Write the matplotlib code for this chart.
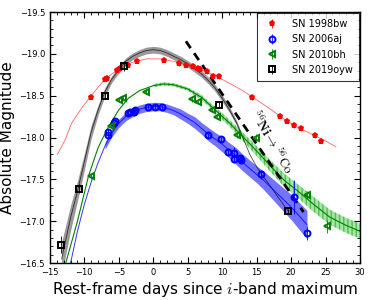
#!/usr/bin/env python3

import numpy as np
from matplotlib import pyplot as plt

bw_day = [-9.05, -7.0, -6.7, -5.2, -4.84, -3.7, -2.3, 1.6, 3.77, 4.74, 5.7, 6.5, 6.8,
          7.83, 8.7, 9.57, 14.3, 18.4, 19.4, 20.4, 21.4, 23.5, 24.4]
bw_mag = [-18.49, -18.70, -18.71, -18.81, -18.83, -18.87, -18.92, -18.93, -18.89, -18.87,
          -18.85, -18.83, -18.82, -18.79, -18.74, -18.73, -18.48, -18.26, -18.20, -18.15,
          -18.11, -18.03, -17.96]
bw_err = [0.03] * len(bw_day)

aj_day = [-6.5, -6.5, -5.67, -5.5, -3.6, -3.4, -2.8, -2.7, -0.73, 0.24, 1.2, 7.9, 9.8,
          10.8, 11.75, 11.75, 12.6, 12.7, 15.6, 20.4, 22.3]
aj_mag = [-18.03, -18.07, -18.17, -18.20, -18.29, -18.31, -18.31, -18.33, -18.37, -18.37,
          -18.36, -18.03, -17.98, -17.83, -17.81, -17.74, -17.75, -17.73, -17.56, -17.29,
          -16.86]
aj_err = [0.03, 0.03, 0.03, 0.03, 0.03, 0.03, 0.05, 0.03, 0.03, 0.03, 0.03, 0.03, 0.03,
          0.04, 0.08, 0.04, 0.04, 0.04, 0.05, 0.2, 0.08]

bh_day = [-9.05, -6.15, -5.0, -4.4, -1.1, 5.56, 6.5, 8.5, 9.3, 12.2, 14.9, 22.3, 25.15]
bh_mag = [-17.54, -18.14, -18.45, -18.47, -18.55, -18.46, -18.43, -18.33, -18.25, -18.03,
          -18.0, -17.31, -16.94]
bh_err = [0.03, 0.03, 0.03, 0.03, 0.03, 0.03, 0.03, 0.03, 0.03, 0.03, 0.04, 0.05, 0.08]

oyw_day = [-13.4, -10.75, -7.0, -4.3, 9.57, 19.6]
oyw_mag = [-16.72, -17.39, -18.50, -18.85, -18.39, -17.12]
oyw_err = [0.1, 0.05, 0.03, 0.06, 0.03, 0.03]

# --- model curves ---
bw_fit_day = [-13.9, -12.8, -11.85, -10.5, -9.1, -7, -5, -3, -1, 1, 3, 5, 7, 9, 11, 13,
              15, 17, 19, 21, 23, 25, 26.5]
bw_fit_mag = [-17.8, -17.97, -18.17, -18.34, -18.49, -18.70, -18.82, -18.90, -18.94,
              -18.94, -18.91, -18.86, -18.81, -18.74, -18.65, -18.56, -18.45, -18.34,
              -18.22, -18.12, -18.04, -17.96, -17.89]

aj_fit_day = [-12, -11, -10, -9, -8, -7, -6, -5, -4, -3, -2, -1, 0, 1, 2, 3, 4, 5, 6, 7,
              8, 9, 10, 11, 12, 13, 14, 15, 16, 17, 18, 19, 20, 21, 22.3]
aj_fit_mag = [-16.5, -16.88, -17.2, -17.47, -17.7, -17.9, -18.06, -18.17, -18.25, -18.3,
              -18.34, -18.36, -18.37, -18.37, -18.35, -18.32, -18.28, -18.23, -18.18,
              -18.11, -18.04, -17.98, -17.92, -17.85, -17.78, -17.70, -17.63, -17.56,
              -17.49, -17.41, -17.33, -17.25, -17.17, -17.08, -16.96]
aj_fit_err = [0, 0, 0, 0, 0, 0.04, 0.05, 0.05, 0.05, 0.05, 0.05, 0.05, 0.05, 0.05, 0.05,
              0.05, 0.06, 0.06, 0.07, 0.07, 0.08, 0.08, 0.09, 0.09, 0.1, 0.1, 0.1, 0.1,
              0.11, 0.12, 0.13, 0.14, 0.15, 0.16, 0.17]

bh_fit_day = [-12.7, -11, -9.4, -8, -6.5, -5, -3.6, -2, 0, 1.5, 3, 5, 7, 8.2, 9.5, 11.1,
              13, 15, 17, 19, 21, 23, 25.6, 28, 30]
bh_fit_mag = [-16.5, -17.0, -17.54, -17.88, -18.13, -18.33, -18.47, -18.56, -18.62,
              -18.64, -18.63, -18.58, -18.48, -18.39, -18.29, -18.17, -18.01, -17.84,
              -17.66, -17.49, -17.36, -17.22, -17.05, -16.95, -16.88]
bh_fit_err = [0, 0, 0, 0, 0, 0, 0, 0, 0.02, 0.02, 0.02, 0.02, 0.03, 0.03, 0.04, 0.04,
              0.05, 0.06, 0.07, 0.08, 0.08, 0.09, 0.09, 0.09, 0.09]

oyw_fit_day = [-13.3, -12, -11, -10, -9, -8, -7, -6, -5, -4, -3, -2, -1, 0, 1, 2, 3, 4,
               5, 6, 7, 8, 9, 10, 11, 12, 13, 14, 15, 16, 17, 18, 19.6]
oyw_fit_mag = [-16.55, -17.04, -17.36, -17.71, -18.07, -18.33, -18.55, -18.70, -18.81,
               -18.91, -18.97, -19.01, -19.04, -19.05, -19.04, -19.01, -18.97, -18.93,
               -18.88, -18.82, -18.76, -18.68, -18.59, -18.47, -18.34, -18.19, -18.0,
               -17.8, -17.65, -17.53, -17.42, -17.3, -17.12]
oyw_fit_err = [0.2, 0.15, 0.12, 0.1, 0.08, 0.06, 0.05, 0.04, 0.04, 0.04, 0.04, 0.04,
               0.04, 0.04, 0.04, 0.04, 0.04, 0.04, 0.04, 0.04, 0.04, 0.04, 0.04, 0.04,
               0.035, 0.03, 0.02, 0, 0, 0, 0, 0, 0]

# 56Ni -> 56Co decay line
decay_day = [4.74, 21.8]
decay_mag = [-19.15, -17.11]


def band(ax, day, mag, err, **kw):
    day, mag, err = np.array(day), np.array(mag), np.array(err)
    m = err > 0
    ax.fill_between(day[m], mag[m] - err[m], mag[m] + err[m], **kw)


def main():
    plt.rcParams['mathtext.fontset'] = 'cm'
    fig = plt.figure(figsize=(3.75, 3.0), dpi=100)
    ax = fig.add_axes([0.133, 0.123, 0.827, 0.837])

    # models
    band(ax, oyw_fit_day, oyw_fit_mag, oyw_fit_err, color='gray', alpha=0.8, lw=0)
    ax.plot(oyw_fit_day, oyw_fit_mag, color='k', lw=0.6, alpha=0.7)
    band(ax, aj_fit_day, aj_fit_mag, aj_fit_err, color='blue', alpha=0.55, lw=0)
    ax.plot(aj_fit_day, aj_fit_mag, color='blue', lw=0.7, alpha=0.8)
    band(ax, bh_fit_day, bh_fit_mag, bh_fit_err, facecolor='limegreen', alpha=0.45,
         edgecolor='green', hatch='||||', lw=0)
    ax.plot(bh_fit_day, bh_fit_mag, color='green', lw=0.8)
    ax.plot(bw_fit_day, bw_fit_mag, color='red', lw=0.6, alpha=0.6)

    ax.plot(decay_day, decay_mag, 'k--', lw=2, dashes=(3, 2.2))
    ax.text(17.2, -17.95, r'$^{56}\mathbf{Ni}\rightarrow{}^{56}\mathrm{Co}$',
            rotation=-60, fontsize=9.5, ha='center', va='center')

    # data
    ax.errorbar(bw_day, bw_mag, yerr=bw_err, fmt='p', color='red', ms=4.5, mew=0,
                elinewidth=0.6, label='SN 1998bw')
    ax.errorbar(aj_day, aj_mag, yerr=aj_err, fmt='o', color='blue', mfc='none', ms=4.3,
                mew=1.4, elinewidth=0.6, label='SN 2006aj')
    ax.errorbar(bh_day, bh_mag, yerr=bh_err, fmt='<', color='green', mfc='none', ms=5,
                mew=1.4, elinewidth=0.6, label='SN 2010bh')
    ax.errorbar(oyw_day, oyw_mag, yerr=oyw_err, fmt='s', color='k', mfc='none', ms=4.3,
                mew=1.4, elinewidth=0.6, label='SN 2019oyw')

    ax.set_xlim(-15, 30)
    ax.set_ylim(-16.5, -19.5)
    ax.set_xticks(np.arange(-15, 31, 5))
    ax.set_yticks(np.arange(-19.5, -16.4, 0.5))
    ax.set_xticks(np.arange(-15, 31, 1), minor=True)
    ax.set_yticks(np.arange(-19.5, -16.45, 0.1), minor=True)
    ax.tick_params(which='both', direction='in', top=True, right=True, labelsize=6)
    ax.tick_params(which='major', length=4)
    ax.tick_params(which='minor', length=2)
    for s in ax.spines.values():
        s.set_linewidth(1.0)

    ax.set_xlabel(r'Rest-frame days since $i$-band maximum', fontsize=11, labelpad=2)
    ax.set_ylabel('Absolute Magnitude', fontsize=11, labelpad=3)

    leg = ax.legend(loc='upper right', fontsize=7, numpoints=1, fancybox=False,
                    borderaxespad=0.1, handletextpad=1.2, labelspacing=0.55,
                    borderpad=0.6, handlelength=1.8)
    leg.get_frame().set_edgecolor('k')
    leg.get_frame().set_linewidth(0.8)

    fig.savefig('out.png', dpi=100)


if __name__ == '__main__':
    main()
